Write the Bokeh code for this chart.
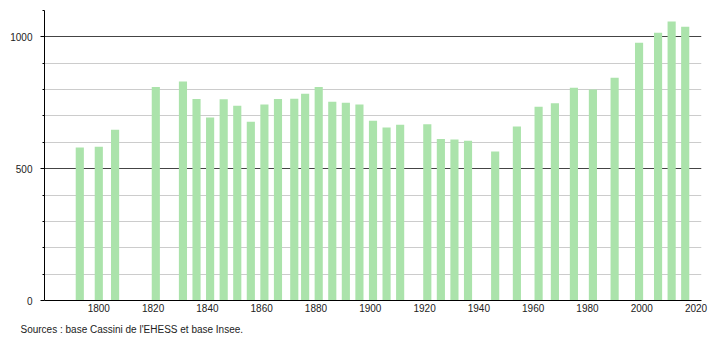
from bokeh.plotting import figure
from bokeh.models import Range1d, FixedTicker, Title
from bokeh.embed import file_html
from bokeh.resources import INLINE

years = [1793, 1800, 1806, 1821, 1831, 1836, 1841, 1846, 1851, 1856, 1861, 1866,
         1872, 1876, 1881, 1886, 1891, 1896, 1901, 1906, 1911, 1921, 1926, 1931,
         1936, 1946, 1954, 1962, 1968, 1975, 1982, 1990, 1999, 2006, 2011, 2016]
population = [580, 583, 648, 810, 831, 764, 694, 763, 739, 678, 743, 764,
              765, 784, 810, 754, 750, 743, 682, 656, 667, 669, 613, 611,
              606, 565, 660, 735, 748, 807, 800, 845, 978, 1016, 1058, 1038]
x_ticks = [1800, 1820, 1840, 1860, 1880, 1900, 1920, 1940, 1960, 1980, 2000, 2020]
y_major = [0, 500, 1000]
y_minor = [100, 200, 300, 400, 600, 700, 800, 900, 1100]
source_text = "Sources : base Cassini de l'EHESS et base Insee."

FONT = "Liberation Sans"

p = figure(width=710, height=340, frame_width=657, frame_height=290,
           output_backend="svg", toolbar_location=None,
           x_range=Range1d(1780, 2022), y_range=Range1d(0, 1100),
           min_border_left=44, min_border_right=9, min_border_top=10,
           min_border_bottom=40, outline_line_color=None)

p.vbar(x=years, top=population, width=3, fill_color="#abe3ab", line_color=None)

# x axis
p.xaxis.ticker = FixedTicker(ticks=x_ticks)
p.xaxis.major_tick_out = 0
p.xaxis.major_tick_in = 0
p.xaxis.minor_tick_out = 0
p.xaxis.minor_tick_in = 0
p.xaxis.major_label_standoff = 3
p.xaxis.axis_line_color = "black"
p.xgrid.grid_line_color = None

# y axis
p.yaxis.ticker = FixedTicker(ticks=y_major, minor_ticks=y_minor)
p.yaxis.major_tick_out = 4
p.yaxis.major_tick_in = 0
p.yaxis.minor_tick_out = 2
p.yaxis.minor_tick_in = 0
p.yaxis.major_label_standoff = 8
p.yaxis.axis_line_color = "black"
p.yaxis.major_tick_line_color = "black"
p.yaxis.minor_tick_line_color = "black"

for ax in (p.xaxis, p.yaxis):
    ax.major_label_text_font = FONT
    ax.major_label_text_font_size = "10px"
    ax.major_label_text_color = "#222222"

p.ygrid.ticker = FixedTicker(ticks=y_major, minor_ticks=y_minor)
p.ygrid.grid_line_color = "#444444"
p.ygrid.minor_grid_line_color = "#cccccc"

p.add_layout(Title(text=source_text, align="left", text_font=FONT,
                   text_font_size="10px", text_font_style="normal",
                   text_color="#222222", offset=-24, standoff=14), "below")

open("out.html", "w").write(file_html(p, INLINE))
